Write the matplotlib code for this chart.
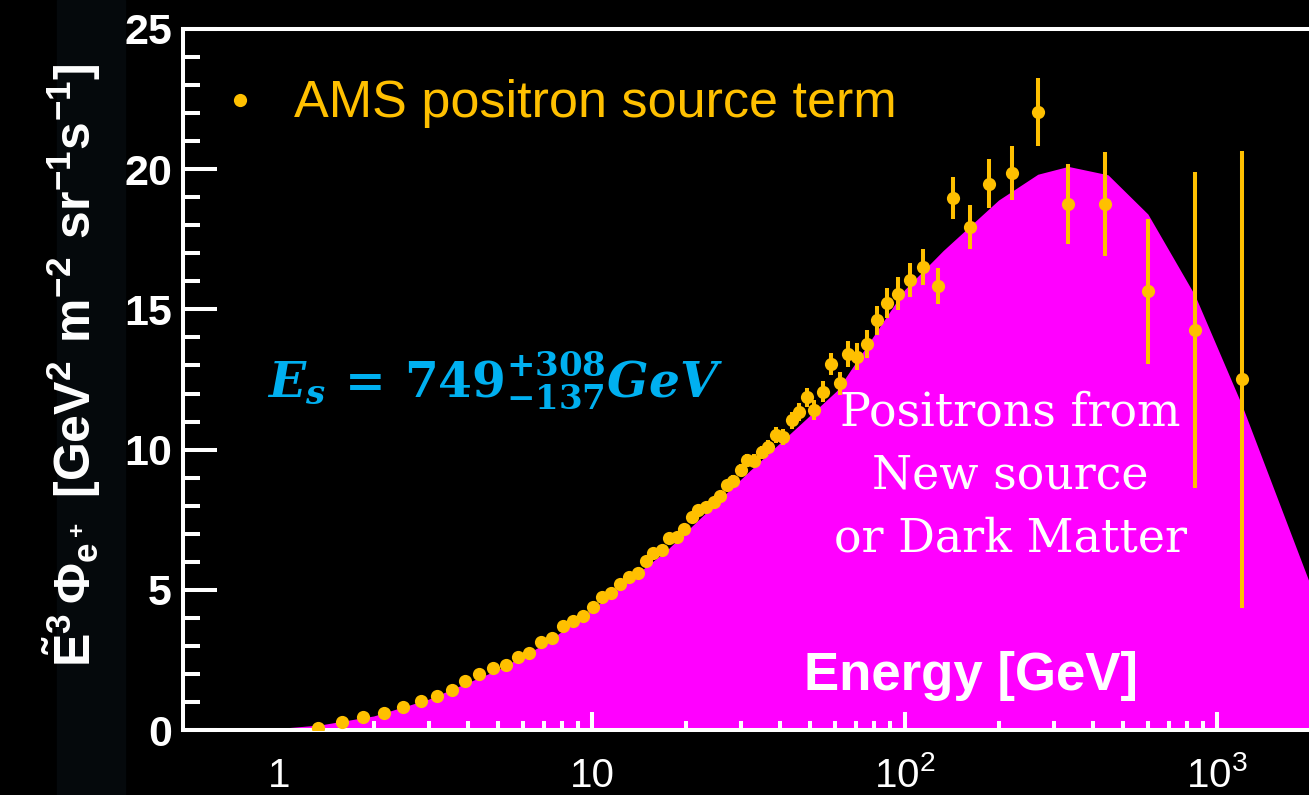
import matplotlib
matplotlib.use("Agg")
import matplotlib.pyplot as plt
from matplotlib.patches import Rectangle
from matplotlib.ticker import FixedLocator, NullFormatter

plt.rcParams['font.family'] = ['Liberation Sans', 'DejaVu Sans']
plt.rcParams['mathtext.fontset'] = 'custom'
plt.rcParams['mathtext.rm'] = 'DejaVu Serif:bold'
plt.rcParams['mathtext.it'] = 'DejaVu Serif:italic:bold'
plt.rcParams['mathtext.bf'] = 'Liberation Sans:bold'
plt.rcParams['mathtext.sf'] = 'Liberation Sans'

ORANGE = '#FFC000'
MAGENTA = '#FF00FF'
BLUE = '#00B0F0'

# AMS positron source term: energy [GeV], E^3 flux, symmetric error
energy = [1.33, 1.59, 1.85, 2.16, 2.49, 2.83, 3.19, 3.56, 3.93, 4.36,
          4.81, 5.29, 5.78, 6.30, 6.87, 7.46, 8.07, 8.70, 9.38, 10.05,
          10.8, 11.5, 12.3, 13.1, 14.0, 14.9, 15.7, 16.8, 17.6, 18.7,
          19.7, 20.9, 21.9, 23.2, 24.5, 25.6, 27.0, 28.3, 29.9, 31.4,
          33.0, 34.9, 36.7, 38.8, 40.9, 43.5, 46.1, 48.6, 51.4, 54.7,
          58.0, 62.2, 66.1, 70.6, 75.7, 81.5, 88.2, 95.5, 104.2, 115.0,
          127.7, 142.6, 162.3, 186.8, 220.3, 268.0, 334.0, 438.5, 603.0, 850.0,
          1205.0]
flux = [0.06, 0.29, 0.48, 0.59, 0.82, 1.04, 1.23, 1.43, 1.73, 1.99,
        2.21, 2.31, 2.60, 2.76, 3.15, 3.27, 3.71, 3.88, 4.06, 4.40,
        4.73, 4.90, 5.20, 5.46, 5.60, 6.01, 6.30, 6.41, 6.84, 6.89,
        7.16, 7.58, 7.84, 7.94, 8.12, 8.36, 8.75, 8.89, 9.27, 9.63,
        9.61, 9.90, 10.08, 10.52, 10.44, 11.04, 11.33, 11.87, 11.42, 12.07,
        13.05, 12.36, 13.41, 13.32, 13.75, 14.61, 15.23, 15.56, 16.04, 16.50,
        15.83, 18.96, 17.93, 19.49, 19.85, 22.04, 18.75, 18.76, 15.64, 14.26,
        12.51]
flux_err = [0.02, 0.03, 0.03, 0.03, 0.04, 0.04, 0.05, 0.05, 0.05, 0.06,
            0.06, 0.06, 0.07, 0.07, 0.07, 0.08, 0.08, 0.08, 0.09, 0.09,
            0.10, 0.10, 0.11, 0.11, 0.12, 0.12, 0.13, 0.13, 0.14, 0.14,
            0.15, 0.15, 0.16, 0.16, 0.17, 0.17, 0.18, 0.19, 0.20, 0.20,
            0.22, 0.24, 0.25, 0.27, 0.28, 0.30, 0.32, 0.34, 0.36, 0.38,
            0.40, 0.40, 0.45, 0.47, 0.50, 0.52, 0.55, 0.58, 0.60, 0.64,
            0.64, 0.75, 0.78, 0.89, 0.96, 1.20, 1.42, 1.87, 2.57, 5.63,
            8.15]

# source term model (new source / dark matter)
model_energy = [0.49, 0.7, 1.0, 1.35, 2.0, 3.0, 5.0, 7.0, 10.0, 17.3, 32.0,
                60.7, 100.0, 133.0, 200.0, 267.0, 334.0, 448.0, 601.0, 850.0,
                1200.0, 1970.0]
model_flux = [0.0, 0.01, 0.06, 0.18, 0.5, 1.1, 2.15, 3.05, 4.3, 6.4, 9.25,
              12.1, 15.7, 17.1, 18.9, 19.82, 20.1, 19.8, 18.4, 15.5,
              11.6, 5.3]

xticks = [1, 10, 100, 1000]
xticklabels = ['1', '10', r'$\mathsf{10^2}$', r'$\mathsf{10^3}$']
yticks = [0, 5, 10, 15, 20, 25]

W, H = 1309, 795
fig = plt.figure(figsize=(W / 100, H / 100), dpi=100, facecolor='black')
fig.patches.append(Rectangle((57 / W, 0), 68 / W, 1, transform=fig.transFigure,
                             color='#05090c', zorder=-1))

ax = fig.add_axes([183 / W, 65 / H, 1 - 183 / W, 701 / H])
ax.set_facecolor('black')
ax.set_xscale('log')

ax.fill_between(model_energy, model_flux, 0, color=MAGENTA, lw=0, zorder=1)
ax.errorbar(energy, flux, yerr=flux_err, fmt='o', ms=9.5, mew=0,
            color=ORANGE, ecolor=ORANGE, elinewidth=2.9, capsize=0, zorder=3)

ax.set_xlim(0.491, 1970)
ax.set_ylim(0, 25)

# axes frame and inward ticks
for side in ['left', 'top', 'bottom']:
    ax.spines[side].set_color('white')
    ax.spines[side].set_linewidth(2.9)
ax.spines['right'].set_visible(False)

ax.xaxis.set_major_locator(FixedLocator(xticks))
ax.set_xticklabels(xticklabels)
minor = [m * d for d in (1, 10, 100) for m in range(2, 10)]
ax.xaxis.set_minor_locator(FixedLocator(minor))
ax.xaxis.set_minor_formatter(NullFormatter())
ax.set_yticks(yticks)
ax.yaxis.set_minor_locator(FixedLocator(range(0, 26)))

ax.tick_params(axis='x', which='major', direction='in', length=13, width=2.9,
               color='white', labelcolor='white', labelsize=29, pad=41)
ax.tick_params(axis='x', which='minor', direction='in', length=6.5, width=2.9,
               color='white')
ax.tick_params(axis='y', which='major', direction='in', length=24.5, width=2.9,
               color='white', labelcolor='white', labelsize=31, pad=8)
ax.tick_params(axis='y', which='minor', direction='in', length=12, width=2.9,
               color='white')
ax.tick_params(top=False, right=False, which='both')
for lab in ax.get_xticklabels():
    lab.set_verticalalignment('baseline')
for lab in ax.get_yticklabels():
    lab.set_fontweight('bold')
ax.xaxis.get_major_ticks()[0].tick1line.set_visible(False)

# axis titles
fig.text(72 / W, 1 - 365 / H,
         r'$\mathbf{\tilde{E}^3\,\Phi_{e^+}\ [GeV^2\ m^{-2}\ sr^{-1}s^{-1}]}$',
         rotation=90, color='white', fontsize=36, ha='center', va='center')
fig.text(971 / W, 1 - 690 / H, 'Energy [GeV]', color='white', fontsize=38,
         fontweight='bold', ha='center', va='baseline', zorder=5)

# legend entry
ax.plot([240 / W], [1 - 100 / H], 'o', ms=9.5, color=ORANGE, mew=0,
        transform=fig.transFigure, clip_on=False)
fig.text(294 / W, 1 - 117 / H, 'AMS positron source term', color=ORANGE,
         fontsize=37.5, ha='left', va='baseline')

# annotations
fig.text(495 / W, 1 - 380 / H, r'$E_s\,=\,749^{+308}_{-137}GeV$', color=BLUE,
         fontsize=35, ha='center', va='center')
fig.text(1010 / W, 1 - 476 / H, 'Positrons from\nNew source\nor Dark Matter',
         color='white', fontsize=33, family='DejaVu Serif', ha='center',
         va='center', multialignment='center', linespacing=1.5)

fig.savefig('out.png', dpi=100, facecolor='black')
